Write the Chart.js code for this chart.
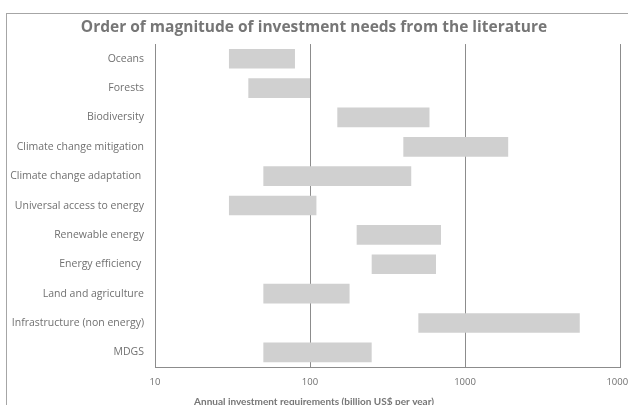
<!DOCTYPE html>
<html>
<head>
<meta charset="utf-8">
<script src="https://cdn.jsdelivr.net/npm/chart.js@4"></script>
<style>
  html, body { margin: 0; padding: 0; background: #fff; overflow: hidden; width: 628px; height: 405px; }
  #frame { position: absolute; left: 6px; top: 13px; width: 800px; height: 600px; border-left: 1px solid #a6a6a6; border-top: 1px solid #a6a6a6; }
  #c { position: absolute; left: 0; top: 0; }
</style>
</head>
<body>
<div id="frame"></div>
<canvas id="c" width="628" height="420"></canvas>
<script>
const categories = ['Oceans', 'Forests', 'Biodiversity', 'Climate change mitigation', 'Climate change adaptation ',
  'Universal access to energy', 'Renewable energy', 'Energy efficiency ', 'Land and agriculture',
  'Infrastructure (non energy)', 'MDGS'];
const lowValues  = [30, 40, 150, 400, 50, 30, 200, 250, 50, 500, 50];
const highValues = [80, 100, 590, 1900, 450, 110, 700, 650, 180, 5500, 250];
const xTickValues = [10, 100, 1000, 10000];
const titleText = 'Order of magnitude of investment needs from the literature';
const xAxisTitle = 'Annual investment requirements (billion US$ per year)';

const ranges = categories.map((_, i) => [lowValues[i], highValues[i]]);
const lineColor = '#8c8c8c';
const textColor = '#707070';
const labelFont = '"Open Sans", "DejaVu Sans", sans-serif';
const latoFont = 'Lato, "Open Sans", sans-serif';

new Chart(document.getElementById('c'), {
  type: 'bar',
  data: {
    labels: categories,
    datasets: [{
      data: ranges,
      backgroundColor: '#d0d0d0',
      borderWidth: 0,
      categoryPercentage: 1,
      barPercentage: 0.67
    }]
  },
  options: {
    indexAxis: 'y',
    responsive: false,
    animation: false,
    layout: { padding: { top: 12, left: 8, right: 8, bottom: 0 } },
    plugins: {
      legend: { display: false },
      tooltip: { enabled: false },
      title: {
        display: true, text: titleText, color: '#767676',
        font: { family: labelFont, size: 15.5, weight: 'bold', lineHeight: 1.1 },
        padding: { top: 7, bottom: 8 }
      },
      subtitle: {
        display: true, position: 'bottom', text: xAxisTitle, color: '#767676',
        font: { family: latoFont, size: 10, weight: 'bold' },
        padding: { top: 0, bottom: 12 }
      }
    },
    scales: {
      x: {
        type: 'logarithmic', min: 10, max: 10000, z: 1,
        afterBuildTicks: s => { s.ticks = xTickValues.map(v => ({ value: v })); },
        afterFit: s => { s.height = 29; s.paddingRight = 0; s.paddingLeft = 0; },
        ticks: {
          color: textColor, font: { family: labelFont, size: 9.5 }, padding: 10,
          maxRotation: 0, autoSkip: false,
          callback: v => String(v)
        },
        grid: { color: lineColor, lineWidth: 1, drawTicks: false },
        border: { display: true, color: lineColor, width: 1 }
      },
      y: {
        afterFit: s => { s.width = 147; },
        ticks: { color: textColor, font: { family: labelFont, size: 10.5 }, padding: 11 },
        grid: { display: false, drawTicks: false },
        border: { display: true, color: lineColor, width: 1 }
      }
    }
  }
});
</script>
</body>
</html>
